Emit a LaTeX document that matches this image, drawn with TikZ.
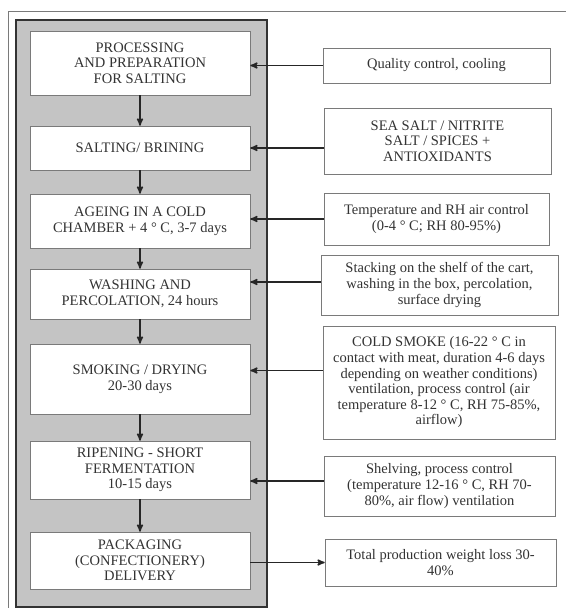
\documentclass[tikz,border=0pt]{standalone}
\usepackage{fontspec}
\setmainfont{Liberation Serif}
\usepackage{tikz}
\usetikzlibrary{arrows,calc,positioning}
\definecolor{panelgray}{HTML}{C4C4C4}
\definecolor{boxline}{HTML}{7A7A7A}
\definecolor{inkgray}{HTML}{333333}

\begin{document}
\begin{tikzpicture}[x=1pt,y=-1pt,>=stealth',semithick]
  \tikzstyle{stage}=[rectangle,draw=boxline,fill=white,text=inkgray,
                     minimum width=220pt,align=center,inner sep=1pt,
                     font=\fontsize{14.5}{15.6}\selectfont]
  \tikzstyle{note}=[rectangle,draw=boxline,fill=white,text=inkgray,
                    align=center,inner sep=1pt,
                    font=\fontsize{14.5}{15.6}\selectfont]
  \tikzstyle{panel}=[rectangle,draw=black!80,fill=panelgray,line width=1.4pt,
                     minimum width=251pt,minimum height=587pt]
  \tikzstyle{flow}=[->,line width=1.5pt,black!85]

  \useasboundingbox (0,0) rectangle (566,608);
  \draw[boxline,line width=1pt] (8,608) -- (8,11) -- (566,11);

  \node[panel] (panel) at (141.5,313.5) {};

  % process steps
  \node[stage,minimum height=64pt] (P1) at (140,63)
    {PROCESSING\\AND PREPARATION\\FOR SALTING};
  \node[stage,minimum height=44pt] (P2) at (140,148)
    {SALTING/ BRINING};
  \node[stage,minimum height=54pt] (P3) at (140,221)
    {AGEING IN A COLD\\CHAMBER + 4 ° C, 3-7 days};
  \node[stage,minimum height=50pt] (P4) at (140,294)
    {WASHING AND\\PERCOLATION, 24 hours};
  \node[stage,minimum height=70pt] (P5) at (140,379)
    {SMOKING / DRYING\\20-30 days};
  \node[stage,minimum height=58pt] (P6) at (140,470)
    {RIPENING - SHORT\\FERMENTATION\\10-15 days};
  \node[stage,minimum height=57pt] (P7) at (140,560.5)
    {PACKAGING\\(CONFECTIONERY)\\DELIVERY};

  % conditions
  \node[note,minimum width=227pt,minimum height=35pt] (R1) at (436.5,65.5)
    {Quality control, cooling};
  \node[note,minimum width=227pt,minimum height=66pt] (R2) at (437.5,141)
    {SEA SALT / NITRITE\\SALT / SPICES +\\ANTIOXIDANTS};
  \node[note,minimum width=225pt,minimum height=52pt] (R3) at (436.5,219)
    {Temperature and RH air control\\(0-4 ° C; RH 80-95\%)};
  \node[note,minimum width=237pt,minimum height=60pt] (R4) at (439.5,285)
    {Stacking on the shelf of the cart,\\washing in the box, percolation,\\surface drying};
  \node[note,minimum width=232pt,minimum height=113pt] (R5) at (439,382.5)
    {COLD SMOKE (16-22 ° C in\\contact with meat, duration 4-6 days\\depending on weather conditions)\\ventilation, process control (air\\temperature 8-12 ° C, RH 75-85\%,\\airflow)};
  \node[note,minimum width=231pt,minimum height=60pt] (R6) at (439.5,486)
    {Shelving, process control\\(temperature 12-16 ° C, RH 70-\\80\%, air flow) ventilation};
  \node[note,minimum width=231pt,minimum height=47pt] (R7) at (440.5,562.5)
    {Total production weight loss 30-\\40\%};

  \path[flow]
    (P1) edge (P2)
    (P2) edge (P3)
    (P3) edge (P4)
    (P4) edge (P5)
    (P5) edge (P6)
    (P6) edge (P7);

  \path[flow]
    (R1.west) edge (R1.west -| P1.east)
    (R2.west |- P2.east) edge (P2.east)
    (R3.west) edge (R3.west -| P3.east)
    ([yshift=3pt]R4.west) edge ([yshift=3pt]R4.west -| P4.east)
    ([yshift=12pt]R5.west) edge ([yshift=12pt]R5.west -| P5.east)
    ([yshift=5pt]R6.west) edge ([yshift=5pt]R6.west -| P6.east)
    (P7.east |- R7.west) edge (R7.west);
\end{tikzpicture}
\end{document}
